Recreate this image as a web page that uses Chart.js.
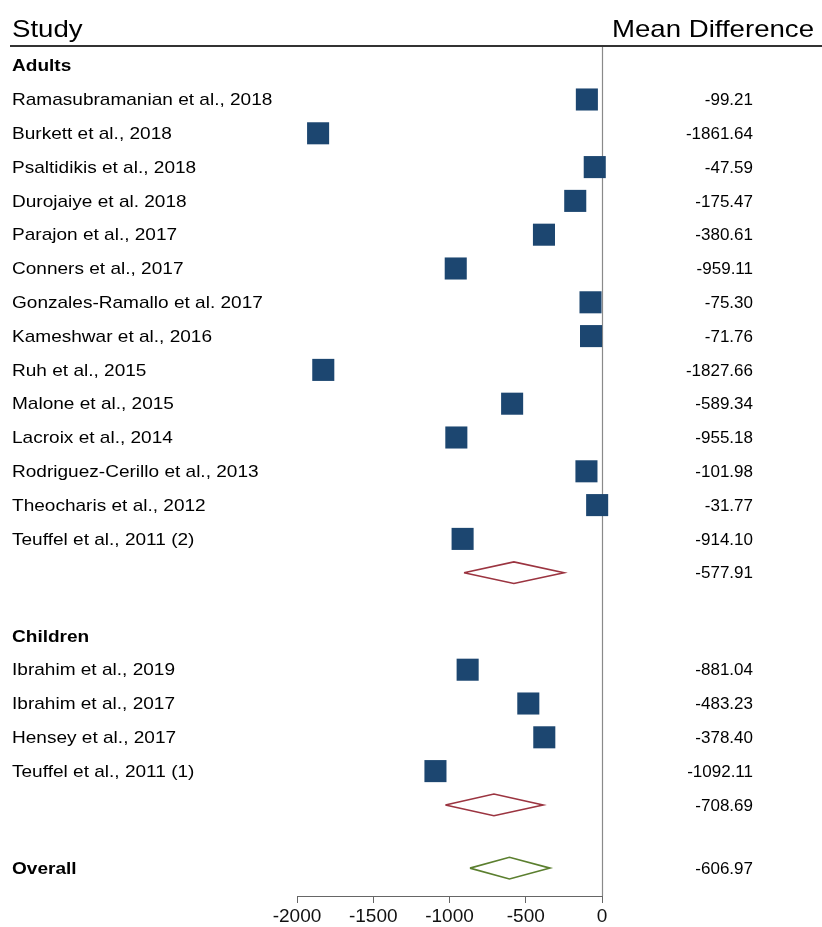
<!DOCTYPE html>
<html>
<head>
<meta charset="utf-8">
<script src="https://cdn.jsdelivr.net/npm/chart.js@4.4.0/dist/chart.umd.min.js"></script>
<style>
  body { margin: 0; background: #fff; }
  #wrap { width: 822px; height: 927px; }
</style>
</head>
<body>
<div id="wrap"><canvas id="forest" width="822" height="927"></canvas></div>
<script>
// estudios por grupo y diferencia de medias
var adultStudies = ["Ramasubramanian et al., 2018", "Burkett et al., 2018", "Psaltidikis et al., 2018",
  "Durojaiye et al. 2018", "Parajon et al., 2017", "Conners et al., 2017", "Gonzales-Ramallo et al. 2017",
  "Kameshwar et al., 2016", "Ruh et al., 2015", "Malone et al., 2015", "Lacroix et al., 2014",
  "Rodriguez-Cerillo et al., 2013", "Theocharis et al., 2012", "Teuffel et al., 2011 (2)"];
var adultMD = [-99.21, -1861.64, -47.59, -175.47, -380.61, -959.11, -75.30, -71.76, -1827.66, -589.34, -955.18, -101.98, -31.77, -914.10];

var childStudies = ["Ibrahim et al., 2019", "Ibrahim et al., 2017", "Hensey et al., 2017", "Teuffel et al., 2011 (1)"];
var childMD = [-881.04, -483.23, -378.40, -1092.11];

// estimados combinados: [estimado, limite inferior, limite superior]
var adultPooled = [-577.91, -905, -249];
var childPooled = [-708.69, -1027, -386];
var overallPooled = [-606.97, -866, -341];

var xTicks = [-2000, -1500, -1000, -500, 0];

// filas del grafico (0 = arriba); las filas vacias son un poco mas bajas
var blankRow = 0.87;
var rows = [];
var pos = 0;
function addRow(r, h) { r.pos = pos; rows.push(r); pos += (h || 1); }

addRow({label: "Adults", bold: true});
adultStudies.forEach(function (s, i) { addRow({label: s, md: adultMD[i], kind: "study"}); });
addRow({md: adultPooled[0], lo: adultPooled[1], hi: adultPooled[2], kind: "pooled", color: "#9b3440"});
pos += blankRow;
addRow({label: "Children", bold: true});
childStudies.forEach(function (s, i) { addRow({label: s, md: childMD[i], kind: "study"}); });
addRow({md: childPooled[0], lo: childPooled[1], hi: childPooled[2], kind: "pooled", color: "#9b3440"});
pos += blankRow;
addRow({label: "Overall", bold: true, md: overallPooled[0], lo: overallPooled[1], hi: overallPooled[2], kind: "pooled", color: "#5b7f2f"});

var FONT = "'Liberation Sans', Arial, sans-serif";
var halfH = 0.32;

var squares = [];
var datasets = [];
rows.forEach(function (r) {
  if (r.kind == "study") squares.push({x: r.md, y: r.pos});
});
datasets.push({
  data: squares,
  pointStyle: 'rect',
  pointRadius: 15.6,
  pointHoverRadius: 15.6,
  backgroundColor: '#1c4670',
  borderWidth: 0,
  clip: false
});
rows.forEach(function (r) {
  if (r.kind != "pooled") return;
  var y = r.pos;
  datasets.push({
    data: [{x: r.lo, y: y}, {x: r.md, y: y - halfH}, {x: r.hi, y: y}, {x: r.md, y: y + halfH}, {x: r.lo, y: y}],
    showLine: true,
    borderColor: r.color,
    borderWidth: 1.6,
    pointRadius: 0,
    tension: 0,
    fill: false,
    clip: false
  });
});

// texto con un poco de estiramiento horizontal
function stretchText(ctx, txt, x, y, align, scaleX) {
  ctx.save();
  ctx.translate(x, y);
  ctx.scale(scaleX, 1);
  ctx.textAlign = align;
  ctx.fillText(txt, 0, 0);
  ctx.restore();
}

var forestText = {
  id: 'forestText',
  beforeDatasetsDraw: function (chart) {
    var ctx = chart.ctx;
    var xs = chart.scales.x;
    var x0 = Math.round(xs.getPixelForValue(0)) + 0.5;
    ctx.save();
    ctx.strokeStyle = '#8a8a8a';
    ctx.lineWidth = 1.2;
    ctx.beginPath();
    ctx.moveTo(x0, chart.chartArea.top);
    ctx.lineTo(x0, chart.chartArea.bottom);
    ctx.stroke();
    ctx.restore();
  },
  afterDraw: function (chart) {
    var ctx = chart.ctx;
    var ys = chart.scales.y;
    ctx.save();
    // encabezado
    ctx.fillStyle = '#000';
    ctx.textBaseline = 'alphabetic';
    ctx.font = "24px " + FONT;
    stretchText(ctx, "Study", 12, 37, 'left', 1.15);
    stretchText(ctx, "Mean Difference", 814, 37, 'right', 1.15);
    ctx.strokeStyle = '#333';
    ctx.lineWidth = 2;
    ctx.beginPath();
    ctx.moveTo(10, 46);
    ctx.lineTo(822, 46);
    ctx.stroke();

    ctx.textBaseline = 'middle';
    rows.forEach(function (r) {
      var y = ys.getPixelForValue(r.pos) + 1;
      if (r.label) {
        ctx.font = (r.bold ? "bold " : "") + "17px " + FONT;
        stretchText(ctx, r.label, 12, y, 'left', 1.12);
      }
      if (r.md !== undefined) {
        ctx.font = "17px " + FONT;
        stretchText(ctx, r.md.toFixed(2), 753, y, 'right', 1.0);
      }
    });
    ctx.restore();
  }
};

new Chart(document.getElementById('forest'), {
  type: 'scatter',
  data: {datasets: datasets},
  options: {
    responsive: false,
    animation: false,
    events: [],
    layout: {padding: {left: 297, right: 220, top: 47, bottom: 0}},
    plugins: {legend: {display: false}, tooltip: {enabled: false}},
    scales: {
      x: {
        type: 'linear',
        min: -2000,
        max: 0,
        afterBuildTicks: function (scale) { scale.ticks = xTicks.map(function (v) { return {value: v}; }); },
        afterFit: function (scale) { scale.height = 31; },
        ticks: {
          color: '#111',
          font: {family: FONT, size: 19},
          padding: 2,
          maxRotation: 0,
          callback: function (v) { return String(v); }
        },
        grid: {drawOnChartArea: false, drawTicks: true, tickLength: 7, color: '#666'},
        border: {display: true, color: '#666', width: 1}
      },
      y: {
        type: 'linear',
        display: false,
        reverse: true,
        min: -0.553,
        max: 24.565
      }
    }
  },
  plugins: [forestText]
});
</script>
</body>
</html>
